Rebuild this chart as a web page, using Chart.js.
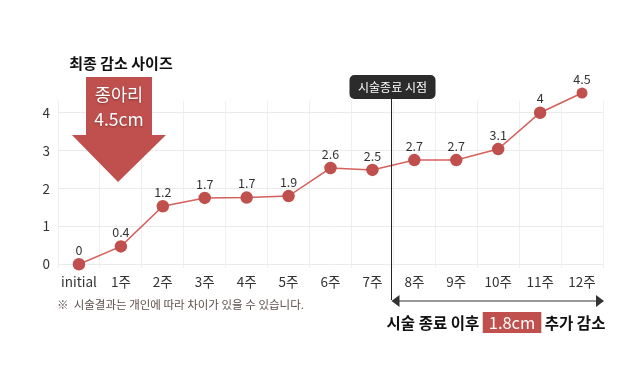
<!DOCTYPE html>
<html>
<head>
<meta charset="utf-8">
<script src="https://cdn.jsdelivr.net/npm/chart.js@4"></script>
<style>
  html, body { margin:0; padding:0; background:#fff; }
  #wrap { width:640px; height:379px; position:relative; }
</style>
</head>
<body>
<div id="wrap"><canvas id="c" width="640" height="379"></canvas></div>
<script>
'use strict';

const weeks = ['initial', '1주', '2주', '3주', '4주', '5주', '6주', '7주', '8주', '9주', '10주', '11주', '12주'];
const reduction = [0, 0.47, 1.53, 1.75, 1.76, 1.8, 2.54, 2.49, 2.75, 2.75, 3.04, 4.0, 4.52];
const pointLabels = ['0', '0.4', '1.2', '1.7', '1.7', '1.9', '2.6', '2.5', '2.7', '2.7', '3.1', '4', '4.5'];
const yTicks = [0, 1, 2, 3, 4];
const endIndex = 7; // 시술 종료 after 7주

const FONT = '"Noto Sans CJK KR", "Noto Sans", sans-serif';
const RED = '#c0504d';

function roundRect(ctx, x, y, w, h, r) {
  ctx.beginPath();
  ctx.moveTo(x + r, y);
  ctx.arcTo(x + w, y, x + w, y + h, r);
  ctx.arcTo(x + w, y + h, x, y + h, r);
  ctx.arcTo(x, y + h, x, y, r);
  ctx.arcTo(x, y, x + w, y, r);
  ctx.closePath();
}

const extras = {
  id: 'extras',
  afterDatasetsDraw(chart) {
    const ctx = chart.ctx;
    const area = chart.chartArea;
    const meta = chart.getDatasetMeta(0);

    ctx.save();
    // points above the plot top are skipped by chart.js, draw them here
    meta.data.forEach(pt => {
      if (pt.y < area.top - 0.5) {
        ctx.fillStyle = RED;
        ctx.beginPath();
        ctx.arc(pt.x, pt.y, pt.options.radius, 0, Math.PI * 2);
        ctx.fill();
      }
    });

    // point value labels
    ctx.font = '12.5px ' + FONT;
    ctx.fillStyle = '#333';
    ctx.textAlign = 'center';
    ctx.textBaseline = 'middle';
    meta.data.forEach((pt, i) => {
      ctx.fillText(pointLabels[i], pt.x, pt.y - 14);
    });
    ctx.restore();
  },
  afterDraw(chart) {
    const ctx = chart.ctx;
    const xs = chart.scales.x;
    const area = chart.chartArea;
    const vx = Math.round((xs.getPixelForValue(endIndex) + xs.getPixelForValue(endIndex + 1)) / 2) - 1.5;
    ctx.save();

    // vertical end-of-treatment line
    ctx.strokeStyle = '#222';
    ctx.lineWidth = 1;
    ctx.beginPath();
    ctx.moveTo(vx, 97);
    ctx.lineTo(vx, 300);
    ctx.stroke();

    // badge
    ctx.fillStyle = '#2b2b2b';
    roundRect(ctx, vx - 42, 75, 86, 24, 5);
    ctx.fill();
    ctx.fillStyle = '#fff';
    ctx.font = '12px ' + FONT;
    ctx.textAlign = 'center';
    ctx.textBaseline = 'middle';
    ctx.fillText('시술종료 시점', vx + 1, 87.5);

    // double arrow
    const ay = 301, x1 = vx, x2 = area.right + 1;
    ctx.strokeStyle = '#333';
    ctx.fillStyle = '#333';
    ctx.lineWidth = 1.2;
    ctx.beginPath();
    ctx.moveTo(x1 + 6, ay);
    ctx.lineTo(x2 - 6, ay);
    ctx.stroke();
    ctx.beginPath();
    ctx.moveTo(x1, ay); ctx.lineTo(x1 + 8, ay - 6); ctx.lineTo(x1 + 8, ay + 6); ctx.closePath(); ctx.fill();
    ctx.beginPath();
    ctx.moveTo(x2, ay); ctx.lineTo(x2 - 8, ay - 6); ctx.lineTo(x2 - 8, ay + 6); ctx.closePath(); ctx.fill();

    // bottom caption
    ctx.textAlign = 'left';
    const t1 = '시술 종료 이후 ', t2 = '1.8cm', t3 = ' 추가 감소';
    ctx.font = 'bold 15.5px ' + FONT;
    const w1 = ctx.measureText(t1).width;
    const w3 = ctx.measureText(t3).width;
    ctx.font = '16.5px ' + FONT;
    const w2 = ctx.measureText(t2).width;
    const boxPad = 6;
    const total = w1 + w2 + boxPad * 2 + w3;
    let tx = 496 - total / 2;
    const ty = 323;
    ctx.font = 'bold 15.5px ' + FONT;
    ctx.fillStyle = '#111';
    ctx.fillText(t1, tx, ty);
    tx += w1;
    ctx.fillStyle = RED;
    ctx.fillRect(tx, 312, w2 + boxPad * 2, 21);
    ctx.font = '16.5px ' + FONT;
    ctx.fillStyle = '#fff';
    ctx.fillText(t2, tx + boxPad, ty);
    tx += w2 + boxPad * 2;
    ctx.font = 'bold 15.5px ' + FONT;
    ctx.fillStyle = '#111';
    ctx.fillText(t3, tx, ty);

    // title
    ctx.textAlign = 'center';
    ctx.fillStyle = '#111';
    ctx.font = 'bold 15px ' + FONT;
    ctx.fillText('최종 감소 사이즈', 121, 63);

    // big down arrow
    ctx.fillStyle = RED;
    ctx.beginPath();
    ctx.moveTo(86, 77); ctx.lineTo(152, 77); ctx.lineTo(152, 135);
    ctx.lineTo(166, 135); ctx.lineTo(118, 182); ctx.lineTo(72, 135);
    ctx.lineTo(86, 135); ctx.closePath();
    ctx.fill();
    ctx.fillStyle = '#fff';
    ctx.shadowColor = 'rgba(0,0,0,0.35)';
    ctx.shadowBlur = 2;
    ctx.shadowOffsetY = 1;
    ctx.font = '17.5px ' + FONT;
    ctx.fillText('종아리', 119, 94);
    ctx.fillText('4.5cm', 119, 119);
    ctx.shadowColor = 'transparent';

    // footnote
    ctx.textAlign = 'left';
    ctx.fillStyle = '#5e4f4b';
    ctx.font = '11.5px ' + FONT;
    ctx.fillText('※  시술결과는 개인에 따라 차이가 있을 수 있습니다.', 57, 305);

    ctx.restore();
  }
};

new Chart(document.getElementById('c'), {
  type: 'line',
  data: {
    labels: weeks,
    datasets: [{
      data: reduction,
      borderColor: '#d4605c',
      borderWidth: 1.5,
      backgroundColor: RED,
      pointBackgroundColor: RED,
      pointBorderColor: RED,
      pointRadius: 5.5,
      pointHoverRadius: 5.5,
      tension: 0,
      clip: false
    }]
  },
  options: {
    responsive: false,
    animation: false,
    devicePixelRatio: 1,
    layout: { padding: { left: 0, right: 37, top: 101, bottom: 81 } },
    plugins: { legend: { display: false }, tooltip: { enabled: false } },
    scales: {
      x: {
        offset: true,
        grid: { display: true, offset: true, color: '#efefef', drawTicks: false },
        border: { display: false },
        ticks: { color: '#333', font: { family: FONT, size: 13.5 }, padding: 6, maxRotation: 0, autoSkip: false },
        afterFit(s) { s.height = 30; }
      },
      y: {
        min: -0.1,
        max: 4.31,
        grid: { color: '#ebebeb', drawTicks: false },
        border: { display: false },
        ticks: { color: '#333', font: { family: FONT, size: 13.5 }, padding: 8 },
        afterBuildTicks(s) { s.ticks = yTicks.map(v => ({ value: v })); },
        afterFit(s) { s.width = 58; }
      }
    }
  },
  plugins: [extras]
});
</script>
</body>
</html>
